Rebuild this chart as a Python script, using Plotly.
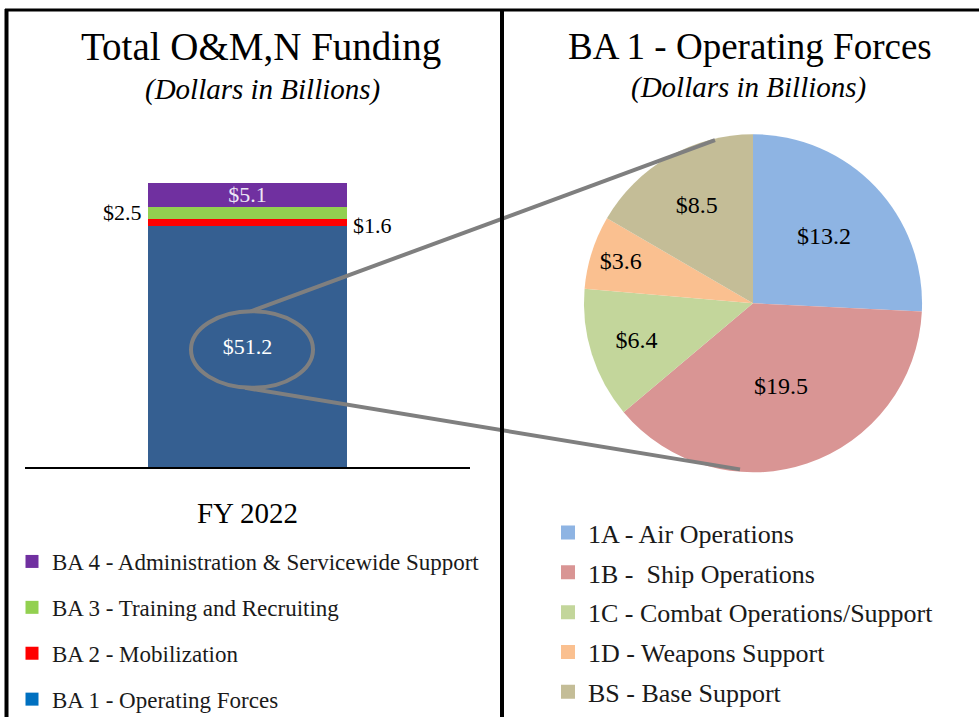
import plotly.graph_objects as go

# ---------------- data ----------------
year_label = ["FY 2022"]
ba_names = ["BA 1 - Operating Forces", "BA 2 - Mobilization",
            "BA 3 - Training and Recruiting", "BA 4 - Administration & Servicewide Support"]
ba_values = [51.2, 1.6, 2.5, 5.1]
ba_bar_colors = ["#355F91", "#FF0000", "#92D050", "#7030A0"]
ba_legend_colors = ["#0070C0", "#FF0000", "#92D050", "#7030A0"]

sag_names = ["1A - Air Operations", "1B -  Ship Operations", "1C - Combat Operations/Support",
             "1D - Weapons Support", "BS - Base Support"]
sag_values = [13.2, 19.5, 6.4, 3.6, 8.5]
sag_colors = ["#8EB4E3", "#D99594", "#C3D69B", "#FAC090", "#C4BD97"]

FONT = "Palatino Linotype, Palatino, P052, Liberation Serif, serif"
W, H = 979, 721


def px(x):
    return x / W


def py(y):
    return 1 - y / H


total = sum(ba_values)
fig = go.Figure()

# stacked bar
text_colors = ["#FFFFFF", "#000000", "#000000", "#EDE6F5"]
for i, (n, v) in enumerate(zip(ba_names, ba_values)):
    show_text = i in (0, 3)
    fig.add_trace(go.Bar(
        x=year_label, y=[v], name=n, marker=dict(color=ba_bar_colors[i], line=dict(width=0)),
        width=0.447, showlegend=False,
        text=[f"${v:.1f}"] if show_text else None,
        textposition="inside" if show_text else "none",
        insidetextanchor="middle", constraintext="none",
        textfont=dict(family=FONT, size=22, color=text_colors[i]),
        hoverinfo="skip",
    ))

# legend entries for bar chart (legend 1), top entry = top segment
for i in reversed(range(len(ba_names))):
    fig.add_trace(go.Scatter(
        x=[None], y=[None], mode="markers", name=ba_names[i],
        marker=dict(symbol="square", size=13, color=ba_legend_colors[i]),
        legend="legend", legendgroup=f"ba{i}", showlegend=True,
    ))

# pie
fig.add_trace(go.Pie(
    labels=sag_names, values=sag_values, sort=False, direction="clockwise", rotation=0,
    marker=dict(colors=sag_colors, line=dict(width=0)),
    texttemplate="$%{value:.1f}", textposition="inside", insidetextorientation="horizontal",
    textfont=dict(family=FONT, size=24, color="#000000"),
    domain=dict(x=[px(583), px(923)], y=[py(475), py(135)]),
    showlegend=False, hoverinfo="label+value",
))

# legend entries for pie (legend 2)
for i in range(len(sag_names)):
    fig.add_trace(go.Scatter(
        x=[None], y=[None], mode="markers", name=sag_names[i],
        marker=dict(symbol="square", size=14, color=sag_colors[i]),
        legend="legend2", legendgroup=f"sag{i}", showlegend=True,
    ))

# annotations
ann = []
ann.append(dict(text="Total O&M,N Funding", x=px(261), y=py(47), font=dict(size=39)))
ann.append(dict(text="<i>(Dollars in Billions)</i>", x=px(262), y=py(90), font=dict(size=29)))
ann.append(dict(text="BA 1 - Operating Forces", x=px(750), y=py(47), font=dict(size=37)))
ann.append(dict(text="<i>(Dollars in Billions)</i>", x=px(748), y=py(88), font=dict(size=29)))
for a in ann:
    a.update(xref="paper", yref="paper", showarrow=False, xanchor="center", yanchor="middle")
    a["font"].update(family=FONT, color="#000000")

# side value labels for thin segments
ann.append(dict(text=f"${ba_values[2]:.1f}", x=-0.2235, y=ba_values[0] + ba_values[1] + ba_values[2] / 2,
                xref="x", yref="y", xanchor="right", yanchor="middle", xshift=-4, showarrow=False,
                font=dict(family=FONT, size=22, color="#000000")))
ann.append(dict(text=f"${ba_values[1]:.1f}", x=0.2235, y=ba_values[0] + ba_values[1] / 2,
                xref="x", yref="y", xanchor="left", yanchor="middle", xshift=4, yshift=-3, showarrow=False,
                font=dict(family=FONT, size=22, color="#000000")))

shapes = []
LC = "#7F7F7F"
# ellipse around BA1 value
shapes.append(dict(type="circle", xref="paper", yref="paper",
                   x0=px(191), x1=px(313), y0=py(390), y1=py(313),
                   line=dict(color=LC, width=4)))
# connector lines
shapes.append(dict(type="line", xref="paper", yref="paper",
                   x0=px(251), y0=py(313), x1=px(715), y1=py(141), line=dict(color=LC, width=4)))
shapes.append(dict(type="line", xref="paper", yref="paper",
                   x0=px(245), y0=py(390), x1=px(740), y1=py(472), line=dict(color=LC, width=4)))
# frame lines
shapes.append(dict(type="line", xref="paper", yref="paper",
                   x0=px(5), y0=py(10), x1=1, y1=py(10), line=dict(color="#000000", width=3)))
shapes.append(dict(type="line", xref="paper", yref="paper",
                   x0=px(6.5), y0=py(9), x1=px(6.5), y1=0, line=dict(color="#000000", width=4)))
shapes.append(dict(type="line", xref="paper", yref="paper",
                   x0=px(502), y0=py(9), x1=px(502), y1=0, line=dict(color="#000000", width=4)))

fig.update_layout(
    width=W, height=H, margin=dict(l=0, r=0, t=0, b=0),
    paper_bgcolor="#FFFFFF", plot_bgcolor="rgba(0,0,0,0)",
    barmode="stack", bargap=0,
    font=dict(family=FONT, color="#000000"),
    xaxis=dict(domain=[px(25), px(470)], range=[-0.5, 0.5], type="category",
               showline=True, linecolor="#000000", linewidth=2, ticks="", showgrid=False,
               zeroline=False, tickfont=dict(family=FONT, size=29, color="#000000"),
               ticklabelstandoff=19, fixedrange=True),
    yaxis=dict(domain=[py(470), py(184)], range=[0, total], visible=False, fixedrange=True),
    legend=dict(x=px(12), y=py(543), xanchor="left", yanchor="top", traceorder="grouped",
                tracegroupgap=13, font=dict(family=FONT, size=23, color="#1A1A1A"),
                bgcolor="rgba(0,0,0,0)", itemclick=False, itemdoubleclick=False),
    legend2=dict(x=px(548), y=py(512), xanchor="left", yanchor="top", traceorder="grouped",
                 tracegroupgap=3, font=dict(family=FONT, size=26, color="#1A1A1A"),
                 bgcolor="rgba(0,0,0,0)", itemclick=False, itemdoubleclick=False),
    annotations=ann, shapes=shapes, showlegend=True,
)

fig.write_html("out.html", config={"displayModeBar": False},
               post_script="document.body.style.margin='0px';document.body.style.overflow='hidden';")
